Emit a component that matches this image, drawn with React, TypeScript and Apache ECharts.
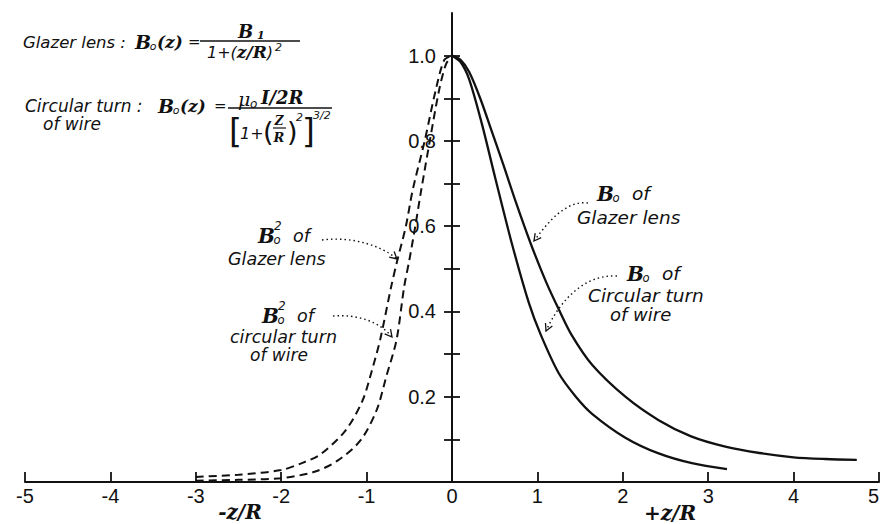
import React, { useEffect, useRef } from "react";
import * as echarts from "echarts";

// ---- data ----
const xMin = -5;
const xMax = 5;
const yMax = 1.1;
const yTickValues = [0.1, 0.2, 0.3, 0.4, 0.5, 0.6, 0.7, 0.8, 0.9, 1.0];
const yLabelValues = [0.2, 0.4, 0.6, 0.8, 1.0];

// B0 of Glazer lens (solid)
const glazerZ = [0, 0.1, 0.2, 0.33, 0.47, 0.6, 0.75, 0.92, 1.1, 1.25, 1.4, 1.64, 2.03, 2.42, 2.8, 3.2, 3.6, 4.0, 4.37, 4.74];
const glazerB = [1.0, 0.99, 0.962, 0.9, 0.82, 0.745, 0.655, 0.56, 0.47, 0.405, 0.345, 0.275, 0.2, 0.145, 0.107, 0.083, 0.068, 0.058, 0.054, 0.052];

// B0 of circular turn of wire (solid)
const circZ = [0, 0.1, 0.2, 0.35, 0.51, 0.7, 0.9, 1.04, 1.25, 1.45, 1.64, 2.03, 2.42, 2.81, 3.22];
const circB = [1.0, 0.985, 0.945, 0.84, 0.71, 0.56, 0.42, 0.345, 0.255, 0.2, 0.16, 0.104, 0.067, 0.044, 0.03];

// B0^2 of Glazer lens (dashed)
const glazerSqZ = [-3, -2.5, -2.0, -1.75, -1.54, -1.25, -1.05, -0.94, -0.84, -0.71, -0.64, -0.54, -0.46, -0.32, -0.19, -0.09, 0];
const glazerSqB = [0.012, 0.017, 0.028, 0.045, 0.065, 0.12, 0.19, 0.26, 0.335, 0.46, 0.52, 0.6, 0.685, 0.8, 0.92, 0.99, 1.0];

// B0^2 of circular turn of wire (dashed)
const circSqZ = [-3, -2.5, -2.0, -1.61, -1.34, -1.07, -0.88, -0.77, -0.65, -0.56, -0.5, -0.43, -0.36, -0.26, -0.15, -0.07, 0];
const circSqB = [0.003, 0.005, 0.009, 0.024, 0.05, 0.098, 0.17, 0.247, 0.333, 0.458, 0.52, 0.6, 0.685, 0.8, 0.92, 0.98, 1.0];

const INK = "#111";
const SANS = "'DejaVu Sans', sans-serif";
const SERIF = "'DejaVu Serif', serif";
const NARROW = "'Liberation Sans Narrow', 'Liberation Sans', sans-serif";

const GRID_LEFT = 25;
const GRID_RIGHT = 4;
const CHART_W = 883;

type Opt = { family?: string; fstyle?: string; weight?: string; align?: string; rich?: any };

function txt(text: string, x: number, y: number, size: number, o: Opt = {}) {
  return {
    type: "text",
    x,
    y,
    silent: true,
    z: 100,
    style: {
      text,
      fontSize: size,
      lineHeight: o.rich ? undefined : size,
      fontFamily: o.family ?? SANS,
      fontStyle: o.fstyle ?? "italic",
      fontWeight: o.weight ?? "normal",
      fill: INK,
      align: o.align ?? "left",
      verticalAlign: "middle",
      rich: o.rich,
    },
  };
}

const boldSerif: Opt = { family: SERIF, fstyle: "italic", weight: "bold" };

function bSym(x: number, y: number, size: number, sup?: string) {
  const els: any[] = [txt("B", x, y, size, boldSerif)];
  els.push(txt("o", x + size * 0.78, y + size * 0.22, size * 0.58));
  if (sup) els.push(txt(sup, x + size * 0.8, y - size * 0.5, size * 0.6));
  return els;
}

function leader(x1: number, y1: number, c1x: number, c1y: number, c2x: number, c2y: number, x2: number, y2: number) {
  const dx = x2 - c2x;
  const dy = y2 - c2y;
  const len = Math.hypot(dx, dy) || 1;
  const ux = -dx / len;
  const uy = -dy / len;
  const L = 8;
  const a = (28 * Math.PI) / 180;
  const r1 = [ux * Math.cos(a) - uy * Math.sin(a), ux * Math.sin(a) + uy * Math.cos(a)];
  const r2 = [ux * Math.cos(-a) - uy * Math.sin(-a), ux * Math.sin(-a) + uy * Math.cos(-a)];
  return [
    {
      type: "bezierCurve",
      silent: true,
      z: 100,
      shape: { x1, y1, cpx1: c1x, cpy1: c1y, cpx2: c2x, cpy2: c2y, x2, y2 },
      style: { stroke: INK, lineWidth: 1.4, lineDash: [1.5, 3], fill: null },
    },
    {
      type: "polyline",
      silent: true,
      z: 100,
      shape: {
        points: [
          [x2 + r1[0] * L, y2 + r1[1] * L],
          [x2, y2],
          [x2 + r2[0] * L, y2 + r2[1] * L],
        ],
      },
      style: { stroke: INK, lineWidth: 1.3, fill: null },
    },
  ];
}

function hline(x1: number, x2: number, y: number, w = 1.5) {
  return { type: "line", silent: true, z: 100, shape: { x1, y1: y, x2, y2: y }, style: { stroke: INK, lineWidth: w } };
}

function buildGraphics() {
  const els: any[] = [];
  // Glazer lens formula
  els.push(txt("Glazer lens :", 23, 42, 16.5));
  els.push(...bSym(135, 42, 19));
  els.push(txt("(z)", 157, 42, 17, boldSerif));
  els.push(txt("=", 188, 42, 15, { fstyle: "normal" }));
  els.push(hline(200, 300, 41));
  els.push(txt("B", 238, 31, 18, boldSerif));
  els.push(txt("1", 257, 35, 11, boldSerif));
  els.push(
    txt("{a|1+(}{b|z/R}{a|)}{c|2}", 207, 52, 16, {
      rich: {
        a: { fontSize: 16, fontFamily: SANS, fontStyle: "italic", lineHeight: 20 },
        b: { fontSize: 17, fontFamily: SERIF, fontStyle: "italic", fontWeight: "bold", lineHeight: 20 },
        c: { fontSize: 11, fontFamily: SANS, fontStyle: "italic", lineHeight: 11, verticalAlign: "top", padding: [0, 0, 0, 2] },
      },
    })
  );

  // Circular turn formula
  els.push(txt("Circular turn :", 25, 106, 17));
  els.push(txt("of wire", 43, 124, 17));
  els.push(...bSym(158, 106, 19));
  els.push(txt("(z)", 180, 106, 17, boldSerif));
  els.push(txt("=", 214, 106, 15, { fstyle: "normal" }));
  els.push(hline(228, 332, 108));
  els.push(txt("μ", 238, 99, 19, { family: SERIF }));
  els.push(txt("o", 250, 104, 12));
  els.push(txt("I/2R", 261, 97, 18, boldSerif));
  els.push(txt("[", 229, 131, 33, { fstyle: "normal", weight: "normal" }));
  els.push(txt("1+", 240, 133, 16));
  els.push(txt("(", 263, 131, 27, { fstyle: "normal" }));
  els.push(txt("Z", 279, 121, 12, { ...boldSerif, align: "center" }));
  els.push(hline(273, 286, 128, 1.2));
  els.push(txt("R", 279, 137, 13, { ...boldSerif, align: "center" }));
  els.push(txt(")", 287, 131, 27, { fstyle: "normal" }));
  els.push(txt("2", 296, 117, 11));
  els.push(txt("]", 302, 131, 33, { fstyle: "normal" }));
  els.push(txt("3/2", 313, 115, 11));

  // Right annotations
  els.push(...bSym(597, 194, 20));
  els.push(txt("of", 632, 193, 18.5));
  els.push(txt("Glazer lens", 577, 217, 18.5));
  els.push(...leader(588, 203, 566, 200, 548, 222, 534, 241));

  els.push(...bSym(627, 274, 20));
  els.push(txt("of", 662, 273, 18.5));
  els.push(txt("Circular turn", 588, 295, 18.5));
  els.push(txt("of wire", 610, 314, 18));
  els.push(...leader(617, 276, 585, 274, 560, 300, 546, 331));

  // Left annotations
  els.push(...bSym(258, 236, 20, "2"));
  els.push(txt("of", 293, 236, 17.5));
  els.push(txt("Glazer lens", 228, 259, 17.5));
  els.push(...leader(322, 240, 352, 236, 382, 246, 397, 259));

  els.push(...bSym(262, 316, 20, "2"));
  els.push(txt("of", 297, 316, 17.5));
  els.push(txt("circular turn", 230, 337, 17.5));
  els.push(txt("of wire", 250, 355, 17));
  els.push(...leader(333, 316, 358, 314, 380, 322, 392, 337));

  // axis names
  els.push(txt("-z/R", 240, 512, 20, { ...boldSerif, align: "center" }));
  els.push(txt("+z/R", 670, 513, 20, { ...boldSerif, align: "center" }));
  return els;
}

const zip = (xs: number[], ys: number[]) => xs.map((x, i) => [x, ys[i]]);

export default function App() {
  const ref = useRef<HTMLDivElement>(null);
  useEffect(() => {
    document.body.style.margin = "0";
    if (!ref.current) return;
    const chart = echarts.init(ref.current, null, { renderer: "svg" });
    // put the vertical axis at z = 0 of the horizontal axis
    const plotW = CHART_W - GRID_LEFT - GRID_RIGHT;
    const zeroOffset = -((0 - xMin) / (xMax - xMin)) * plotW;
    const lineBase = { type: "line", symbol: "none", showSymbol: false, smooth: 0.3, silent: true };
    const yBase = {
      type: "value",
      min: 0,
      max: yMax,
      position: "left",
      offset: zeroOffset,
      splitLine: { show: false },
    };
    const option: any = {
      animation: false,
      backgroundColor: "#fff",
      grid: { left: GRID_LEFT, right: GRID_RIGHT, top: 13, bottom: 42, containLabel: false, outerBoundsMode: "none" },
      xAxis: {
        type: "value",
        min: xMin,
        max: xMax,
        interval: 1,
        axisLine: { onZero: false, lineStyle: { color: INK, width: 2 } },
        axisTick: { show: true, inside: true, length: 10, lineStyle: { color: INK, width: 1.8 } },
        axisLabel: {
          margin: 4,
          fontSize: 20,
          fontFamily: NARROW,
          color: INK,
          alignMaxLabel: "right",
          formatter: (v: number) => String(v),
        },
        splitLine: { show: false },
      },
      yAxis: [
        {
          ...yBase,
          axisLine: { show: true, onZero: false, lineStyle: { color: INK, width: 2 } },
          axisTick: { show: true, inside: false, length: 8, customValues: yTickValues, lineStyle: { color: INK, width: 1.8 } },
          axisLabel: {
            show: true,
            margin: 16,
            fontSize: 20,
            fontFamily: NARROW,
            color: INK,
            customValues: yLabelValues,
            formatter: (v: number) => v.toFixed(1),
          },
        },
        {
          ...yBase,
          axisLine: { show: false, onZero: false },
          axisTick: { show: true, inside: true, length: 8, customValues: yTickValues, lineStyle: { color: INK, width: 1.8 } },
          axisLabel: { show: false },
        },
      ],
      series: [
        { ...lineBase, name: "B0 Glazer", data: zip(glazerZ, glazerB), lineStyle: { color: INK, width: 2.3 } },
        { ...lineBase, name: "B0 circular", data: zip(circZ, circB), lineStyle: { color: INK, width: 2.3 } },
        { ...lineBase, name: "B0^2 Glazer", data: zip(glazerSqZ, glazerSqB), lineStyle: { color: INK, width: 2, type: [8, 5] } },
        { ...lineBase, name: "B0^2 circular", data: zip(circSqZ, circSqB), lineStyle: { color: INK, width: 2, type: [8, 5] } },
      ],
      graphic: { elements: buildGraphics() },
    };
    chart.setOption(option);
    return () => chart.dispose();
  }, []);
  return <div ref={ref} style={{ width: 883, height: 524 }} />;
}
